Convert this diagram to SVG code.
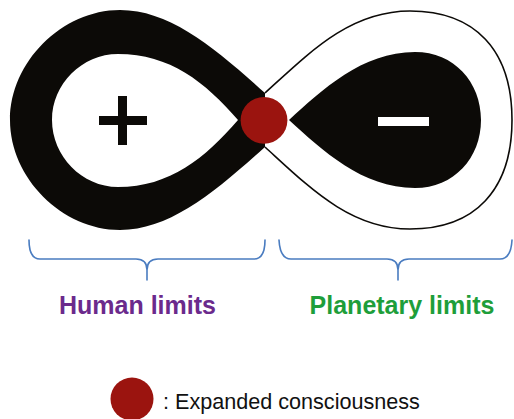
<svg xmlns="http://www.w3.org/2000/svg" width="514" height="419" viewBox="0 0 514 419">
<style>
.ink{fill:#0c0a07}
.outline{fill:none;stroke:#0c0a07;stroke-width:1.6}
.brace{fill:none;stroke:#4a7cc0;stroke-width:1.6;stroke-linecap:round;stroke-linejoin:round}
.dot{fill:#9b140f}
.lbl{font-family:"Liberation Sans",Arial,sans-serif;font-weight:bold;font-size:25px;text-anchor:middle}
.leg{font-family:"Liberation Sans",Arial,sans-serif;font-size:21.6px;fill:#111}
</style>
<rect width="514" height="419" fill="#ffffff"/>
<g id="human-loop">
<path class="ink" fill-rule="evenodd" d="M265,93 C215,48 170,10 120,10 C62,10 10,62 10,120 C10,178 62,230 120,230 C170,230 215,192 265,147 Z M238,120 C205,82 170,54 118,54 C82,54 52,84 52,120 C52,156 82,187 118,187 C170,187 205,158 238,120 Z"/>
<rect class="ink" x="99" y="116" width="48" height="9"/>
<rect class="ink" x="118" y="96" width="9" height="49"/>
</g>
<g id="planetary-loop">
<path class="outline" d="M265,93 C310,52 350,11 410,11 C475,11 512,50 512,120 C512,190 475,229 410,229 C350,229 310,188 265,147"/>
<path class="ink" d="M289,120 C322,90 362,52 415,52 C454,52 481,82 481,120 C481,158 454,188 415,188 C362,188 322,150 289,120 Z"/>
<rect x="378" y="117" width="51" height="9" fill="#ffffff"/>
</g>
<g id="consciousness">
<circle class="dot" cx="264" cy="120.3" r="23.4"/>
</g>
<g id="connectors">
<path class="brace" d="M29,240 Q29,259 40,259 L136,259 Q147,259 147,270 L147,280 M147,270 Q147,259 158,259 L254,259 Q265,259 265,240"/>
<path class="brace" d="M279,240 Q280,259 291,259 L387,259 Q398,259 398,270 L398,280 M398,270 Q398,259 409,259 L500,259 Q511,259 512,240"/>
</g>
<g id="human-label">
<text class="lbl" x="137.5" y="314" fill="#6b2a8c">Human limits</text>
</g>
<g id="planetary-label">
<text class="lbl" x="402" y="314" fill="#1e9e3a">Planetary limits</text>
</g>
<g id="legend">
<circle class="dot" cx="132" cy="399" r="21.5"/>
<text class="leg" x="163" y="408.5">: Expanded consciousness</text>
</g>
</svg>
